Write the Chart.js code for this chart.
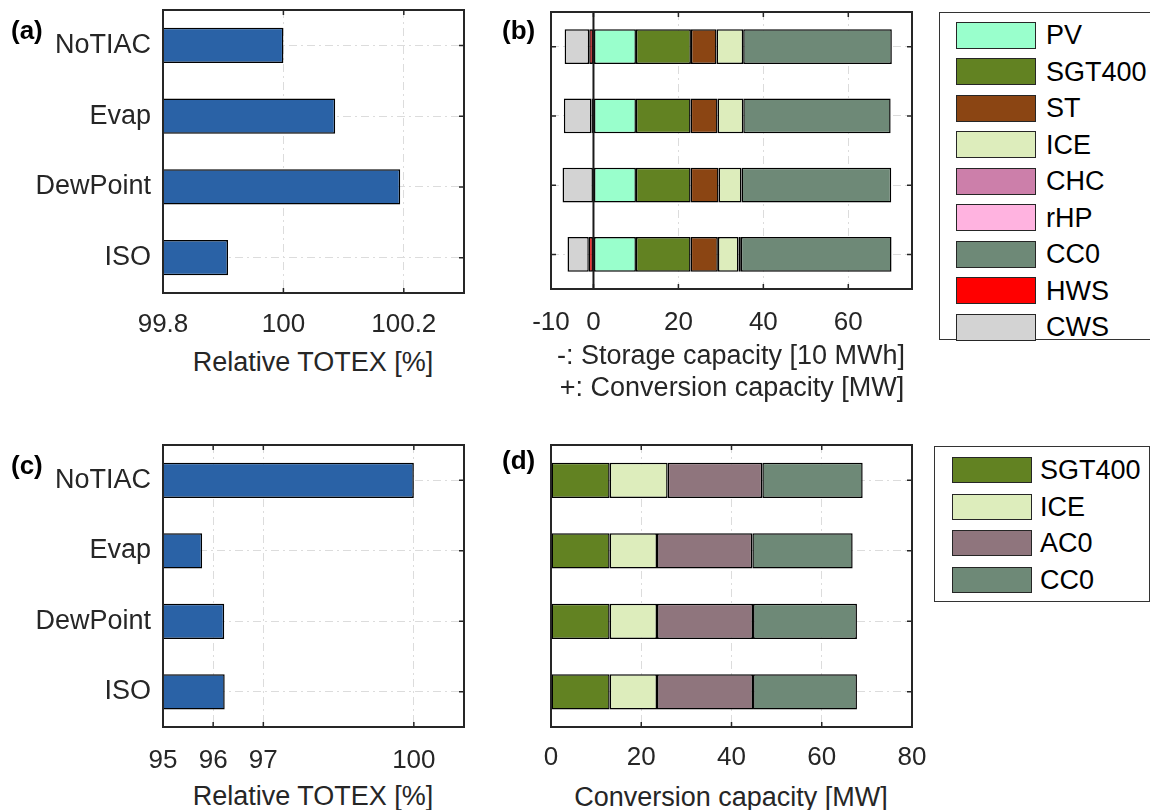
<!DOCTYPE html>
<html>
<head>
<meta charset="utf-8">
<script src="https://cdn.jsdelivr.net/npm/chart.js@4.4.0/dist/chart.umd.min.js"></script>
<style>
  body { margin: 0; background: #fff; }
  #fig { position: relative; width: 1150px; height: 810px; overflow: hidden;
         font-family: "Liberation Sans", Arial, Helvetica, sans-serif; color: #262626; }
  .panel { position: absolute; }
  .txt { position: absolute; font-size: 27px; line-height: 30px; white-space: nowrap; }
  .center { transform: translateX(-50%); }
  .lbl { font-weight: bold; color: #000; font-size: 26px; }
  .legend { position: absolute; border: 1px solid #333; background: #fff; box-sizing: border-box; }
  .sw { position: absolute; width: 80px; box-sizing: border-box; border: 1px solid #262626; }
  .lt { position: absolute; font-size: 27px; line-height: 30px; color: #000; white-space: nowrap; }
</style>
</head>
<body>
<div id="fig">
  <canvas id="chartA" class="panel" width="480" height="345" style="left:0;top:0"></canvas>
  <canvas id="chartB" class="panel" width="435" height="345" style="left:500px;top:0"></canvas>
  <canvas id="chartC" class="panel" width="480" height="345" style="left:0;top:430px"></canvas>
  <canvas id="chartD" class="panel" width="435" height="345" style="left:500px;top:430px"></canvas>

  <div class="txt lbl" style="left:11px;top:15px">(a)</div>
  <div class="txt lbl" style="left:502px;top:15px">(b)</div>
  <div class="txt lbl" style="left:11px;top:450px">(c)</div>
  <div class="txt lbl" style="left:502px;top:445px">(d)</div>

  <div class="txt center" style="left:313px;top:347px">Relative TOTEX [%]</div>
  <div class="txt center" style="left:731px;top:340px">-: Storage capacity [10 MWh]</div>
  <div class="txt center" style="left:732px;top:372px">+: Conversion capacity [MW]</div>
  <div class="txt center" style="left:313px;top:781px">Relative TOTEX [%]</div>
  <div class="txt center" style="left:731px;top:782px">Conversion capacity [MW]</div>

  <div id="legendB" class="legend" style="left:939px;top:12px;width:215px;height:328px"></div>
  <div id="legendD" class="legend" style="left:934px;top:446px;width:216px;height:156px"></div>
</div>

<script>
const scenarios = ['NoTIAC', 'Evap', 'DewPoint', 'ISO'];

// relative TOTEX [%]
const totexA = [100.0, 100.086, 100.194, 99.908];
const totexC = [100.0, 95.78, 96.22, 96.23];
const ticksA = [99.8, 100, 100.2];
const ticksC = [95, 96, 97, 100];

// panel (b): storage (negative, 10 MWh) and conversion (positive, MW) capacities
const techB = ['PV', 'SGT400', 'ST', 'ICE', 'CHC', 'rHP', 'CC0', 'HWS', 'CWS'];
const pvB  = [10.0, 10.0, 10.0, 10.0];
const sgtB = [12.95, 12.87, 12.87, 12.87];
const stB  = [6.03, 6.35, 6.58, 6.42];
const iceB = [6.27, 6.05, 5.41, 4.86];
const chcB = [0, 0, 0, 0.55];
const rhpB = [0, 0, 0, 0];
const cc0B = [35.0, 34.7, 35.25, 35.48];
const hwsB = [-1.0, -0.47, 0, -1.1];
const cwsB = [-5.79, -6.5, -7.28, -5.01];
const ticksB = [-10, 0, 20, 40, 60];

// panel (d): conversion capacity [MW]
const techD = ['SGT400', 'ICE', 'AC0', 'CC0'];
const sgtD = [13.0, 13.0, 13.0, 13.0];
const iceD = [12.85, 10.49, 10.49, 10.49];
const ac0D = [20.98, 21.13, 21.28, 21.28];
const cc0D = [22.24, 22.23, 23.03, 23.03];
const ticksD = [0, 20, 40, 60, 80];

const colors = {
  PV: '#99FFCC', SGT400: '#628222', ST: '#8B4513', ICE: '#DDEDBC', CHC: '#CC7FAA',
  rHP: '#FFB3E0', CC0: '#6E8977', HWS: '#FF0000', CWS: '#D3D3D3', AC0: '#8F757D'
};
const barBlue = '#2A62A6';
const axisColor = '#262626';
const gridColor = '#dcdcdc';
const family = '"Liberation Sans", Arial, Helvetica, sans-serif';

// box around the axes, inward tick marks and the zero line of panel (b)
const axesBox = {
  id: 'axesBox',
  beforeDatasetsDraw(chart) {
    const { ctx, chartArea: a, scales: { x, y } } = chart;
    ctx.save();
    ctx.strokeStyle = axisColor;
    ctx.lineWidth = 1.5;
    ctx.beginPath();
    x.ticks.forEach(t => {
      const px = x.getPixelForValue(t.value);
      ctx.moveTo(px, a.bottom); ctx.lineTo(px, a.bottom - 5);
      ctx.moveTo(px, a.top); ctx.lineTo(px, a.top + 5);
    });
    y.ticks.forEach((t, i) => {
      const py = y.getPixelForTick(i);
      ctx.moveTo(a.left, py); ctx.lineTo(a.left + 5, py);
      ctx.moveTo(a.right, py); ctx.lineTo(a.right - 5, py);
    });
    ctx.stroke();
    ctx.restore();
  },
  afterDatasetsDraw(chart, args, opts) {
    const { ctx, chartArea: a, scales: { x } } = chart;
    ctx.save();
    if (opts.zeroLine) {
      const px = x.getPixelForValue(0);
      ctx.strokeStyle = '#1a1a1a';
      ctx.lineWidth = 2;
      ctx.beginPath();
      ctx.moveTo(px, a.top); ctx.lineTo(px, a.bottom);
      ctx.stroke();
    }
    ctx.strokeStyle = axisColor;
    ctx.lineWidth = 2;
    ctx.strokeRect(a.left, a.top, a.width, a.height);
    ctx.restore();
  }
};

function barh(id, datasets, cfg) {
  return new Chart(document.getElementById(id), {
    type: 'bar',
    data: { labels: scenarios, datasets },
    options: {
      indexAxis: 'y',
      responsive: false,
      animation: false,
      events: [],
      layout: { padding: cfg.padding },
      datasets: {
        bar: {
          barPercentage: 0.5, categoryPercentage: 1,
          borderColor: '#000', borderWidth: 1.5, borderSkipped: false
        }
      },
      plugins: {
        legend: { display: false },
        tooltip: { enabled: false },
        axesBox: { zeroLine: !!cfg.zeroLine }
      },
      scales: {
        x: {
          type: 'linear', min: cfg.min, max: cfg.max, stacked: cfg.stacked,
          afterBuildTicks: s => { s.ticks = cfg.ticks.map(v => ({ value: v })); },
          afterFit: s => { s.height = cfg.xh; s.paddingLeft = 0; s.paddingRight = 0; },
          grid: { color: gridColor, lineWidth: 1, drawTicks: false },
          border: { display: false, dash: [8, 4, 2, 4] },
          ticks: { font: { family, size: 26 }, color: axisColor, padding: cfg.xpad, maxRotation: 0,
                   callback: v => String(v) }
        },
        y: {
          stacked: cfg.stacked,
          afterFit: s => { s.width = cfg.yw; s.paddingTop = 0; s.paddingBottom = 0; },
          grid: { color: gridColor, lineWidth: 1, offset: false, drawTicks: false },
          border: { display: false, dash: [8, 4, 2, 4] },
          ticks: { display: cfg.yLabels, font: { family, size: 27 }, color: axisColor, padding: 12 }
        }
      }
    },
    plugins: [axesBox]
  });
}

const seriesB = [pvB, sgtB, stB, iceB, chcB, rhpB, cc0B, hwsB, cwsB];
const seriesD = [sgtD, iceD, ac0D, cc0D];

barh('chartA', [{ data: totexA, backgroundColor: barBlue }], {
  min: 99.8, max: 100.3, ticks: ticksA, stacked: false, yLabels: true,
  padding: { top: 10, right: 16 }, yw: 163, xh: 52, xpad: 16
});

barh('chartB', techB.map((name, i) => ({ label: name, data: seriesB[i], backgroundColor: colors[name] })), {
  min: -10, max: 75, ticks: ticksB, stacked: true, yLabels: false, zeroLine: true,
  padding: { top: 12, right: 23 }, yw: 51, xh: 56, xpad: 18
});

barh('chartC', [{ data: totexC, backgroundColor: barBlue }], {
  min: 95, max: 101, ticks: ticksC, stacked: false, yLabels: true,
  padding: { top: 15, right: 16 }, yw: 163, xh: 48, xpad: 18
});

barh('chartD', techD.map((name, i) => ({ label: name, data: seriesD[i], backgroundColor: colors[name] })), {
  min: 0, max: 80, ticks: ticksD, stacked: true, yLabels: false,
  padding: { top: 15, right: 23 }, yw: 51, xh: 48, xpad: 15
});

// legends next to panels (b) and (d)
function legend(id, names, firstRow, step, swLeft, swH, textLeft) {
  const box = document.getElementById(id);
  names.forEach((name, i) => {
    const cy = firstRow + i * step;
    const sw = document.createElement('div');
    sw.className = 'sw';
    sw.style.cssText = `left:${swLeft}px;top:${cy - swH / 2}px;height:${swH}px;background:${colors[name]}`;
    const t = document.createElement('div');
    t.className = 'lt';
    t.style.cssText = `left:${textLeft}px;top:${cy - 15}px`;
    t.textContent = name;
    box.appendChild(sw);
    box.appendChild(t);
  });
}
legend('legendB', techB, 22.2, 36.5, 16, 27, 106);
legend('legendD', techD, 23, 36.5, 17, 26, 105);
</script>
</body>
</html>
